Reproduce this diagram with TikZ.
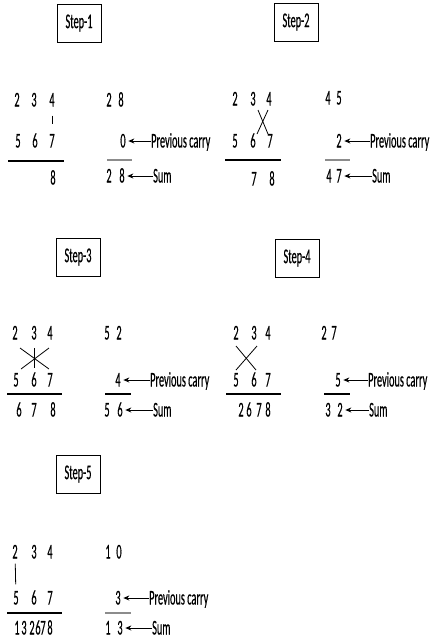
\documentclass[tikz,border=0pt]{standalone}
\usepackage{fontspec}
\setmainfont[FakeStretch=0.49,FakeBold=0.4]{Carlito}
\usetikzlibrary{arrows.meta}

\begin{document}
\begin{tikzpicture}[x=1pt,y=-1pt,font=\fontsize{21}{24}\selectfont,
  stepbox/.style={draw,line width=0.9pt,minimum width=44pt,minimum height=38pt,inner sep=0pt},
  dig/.style={inner sep=0pt,text height=13pt,text depth=0pt},
  lbl/.style={inner sep=0pt,text height=13pt,text depth=0pt,anchor=west},
  rule/.style={line width=1.3pt},
  crule/.style={line width=1.3pt,black!45},
  lnk/.style={line width=0.8pt},
  ptr/.style={line width=1pt,-{Stealth[length=6pt,width=5pt]},shorten >=2.5pt}]
\useasboundingbox (0,0) rectangle (430,641);
% --- Step-1 ---
\node[stepbox] (st1) at (79,23) {Step-1};
\node[dig] (s1a2) at (17,100) {2};
\node[dig] (s1a3) at (34,100) {3};
\node[dig] (s1a4) at (52,100) {4};
\node[dig] (s1b5) at (18,141) {5};
\node[dig] (s1b6) at (35,141) {6};
\node[dig] (s1b7) at (52,141) {7};
\draw[lnk,shorten <=9pt,shorten >=10pt] (s1a4) -- (s1b7);
\coordinate (s1u0) at (8,161); \coordinate (s1u1) at (64,161);
\draw[rule] (s1u0) -- (s1u1);
\node[dig] (s1r8) at (53,178) {8};
\node[dig] (s1p1) at (109,100) {2};
\node[dig] (s1p2) at (121,100) {8};
\node[dig] (s1c) at (123,141) {0};
\node[lbl] (s1cl) at (151,141) {Previous carry};
\draw[ptr] (s1cl) -- (s1c);
\coordinate (s1v0) at (107,160); \coordinate (s1v1) at (132,160);
\draw[crule] (s1v0) -- (s1v1);
\node[dig] (s1s1) at (109,176) {2};
\node[dig] (s1s2) at (122,176) {8};
\node[lbl] (s1sl) at (153,176) {Sum};
\draw[ptr] (s1sl) -- (s1s2);
% --- Step-2 ---
\node[stepbox] (st2) at (296,22) {Step-2};
\node[dig] (s2a2) at (235,99) {2};
\node[dig] (s2a3) at (253,99) {3};
\node[dig] (s2a4) at (269,99) {4};
\node[dig] (s2b5) at (235,141) {5};
\node[dig] (s2b6) at (253,141) {6};
\node[dig] (s2b7) at (270,141) {7};
\coordinate (s2x1) at (258,110); \coordinate (s2x2) at (268,134);
\coordinate (s2x3) at (268,110); \coordinate (s2x4) at (257,134);
\draw[lnk] (s2x1) -- (s2x2);
\draw[lnk] (s2x3) -- (s2x4);
\coordinate (s2u0) at (225,160); \coordinate (s2u1) at (281,160);
\draw[rule] (s2u0) -- (s2u1);
\node[dig] (s2r7) at (254,179) {7};
\node[dig] (s2r8) at (272,179) {8};
\node[dig] (s2p1) at (328,98) {4};
\node[dig] (s2p2) at (339,98) {5};
\node[dig] (s2c) at (339,141) {2};
\node[lbl] (s2cl) at (370,141) {Previous carry};
\draw[ptr] (s2cl) -- (s2c);
\coordinate (s2v0) at (325,160); \coordinate (s2v1) at (350,160);
\draw[crule] (s2v0) -- (s2v1);
\node[dig] (s2s1) at (329,176) {4};
\node[dig] (s2s2) at (339,176) {7};
\node[lbl] (s2sl) at (372,176) {Sum};
\draw[ptr] (s2sl) -- (s2s2);
% --- Step-3 ---
\node[stepbox] (st3) at (78,257) {Step-3};
\node[dig] (s3a2) at (15,333) {2};
\node[dig] (s3a3) at (34,333) {3};
\node[dig] (s3a4) at (50,333) {4};
\node[dig] (s3b5) at (16,380) {5};
\node[dig] (s3b6) at (34,380) {6};
\node[dig] (s3b7) at (50,380) {7};
\coordinate (s3x1) at (20,348); \coordinate (s3x2) at (49,369);
\coordinate (s3x3) at (49,348); \coordinate (s3x4) at (21,369);
\coordinate (s3x5) at (34,348); \coordinate (s3x6) at (34,368);
\draw[lnk] (s3x1) -- (s3x2);
\draw[lnk] (s3x3) -- (s3x4);
\draw[lnk] (s3x5) -- (s3x6);
\coordinate (s3u0) at (7,394); \coordinate (s3u1) at (62,394);
\draw[rule] (s3u0) -- (s3u1);
\node[dig] (s3r6) at (19,410) {6};
\node[dig] (s3r7) at (34,410) {7};
\node[dig] (s3r8) at (53,410) {8};
\node[dig] (s3p1) at (107,333) {5};
\node[dig] (s3p2) at (119,333) {2};
\node[dig] (s3c) at (118,380) {4};
\node[lbl] (s3cl) at (150,380) {Previous carry};
\draw[ptr] (s3cl) -- (s3c);
\coordinate (s3v0) at (105,394); \coordinate (s3v1) at (131,394);
\draw[rule] (s3v0) -- (s3v1);
\node[dig] (s3s1) at (107,410) {5};
\node[dig] (s3s2) at (120,410) {6};
\node[lbl] (s3sl) at (153,410) {Sum};
\draw[ptr] (s3sl) -- (s3s2);
% --- Step-4 ---
\node[stepbox] (st4) at (297,258) {Step-4};
\node[dig] (s4a2) at (236,333) {2};
\node[dig] (s4a3) at (254,333) {3};
\node[dig] (s4a4) at (268,333) {4};
\node[dig] (s4b5) at (236,380) {5};
\node[dig] (s4b6) at (254,380) {6};
\node[dig] (s4b7) at (268,380) {7};
\coordinate (s4x1) at (236,346); \coordinate (s4x2) at (256,370);
\coordinate (s4x3) at (257,346); \coordinate (s4x4) at (236,370);
\draw[lnk] (s4x1) -- (s4x2);
\draw[lnk] (s4x3) -- (s4x4);
\coordinate (s4u0) at (226,394); \coordinate (s4u1) at (281,394);
\draw[rule] (s4u0) -- (s4u1);
\node[dig] (s4r2) at (241,410) {2};
\node[dig] (s4r6) at (249,410) {6};
\node[dig] (s4r7) at (259,410) {7};
\node[dig] (s4r8) at (268,410) {8};
\node[dig] (s4p1) at (324,333) {2};
\node[dig] (s4p2) at (334,333) {7};
\node[dig] (s4c) at (338,380) {5};
\node[lbl] (s4cl) at (368,380) {Previous carry};
\draw[ptr] (s4cl) -- (s4c);
\coordinate (s4v0) at (324,394); \coordinate (s4v1) at (350,394);
\draw[rule] (s4v0) -- (s4v1);
\node[dig] (s4s1) at (328,410) {3};
\node[dig] (s4s2) at (340,410) {2};
\node[lbl] (s4sl) at (369,410) {Sum};
\draw[ptr] (s4sl) -- (s4s2);
% --- Step-5 ---
\node[stepbox] (st5) at (78,474) {Step-5};
\node[dig] (s5a2) at (15,552) {2};
\node[dig] (s5a3) at (34,552) {3};
\node[dig] (s5a4) at (50,552) {4};
\node[dig] (s5b5) at (16,598) {5};
\node[dig] (s5b6) at (34,598) {6};
\node[dig] (s5b7) at (50,598) {7};
\draw[lnk,shorten <=5pt,shorten >=7pt] (s5a2) -- (s5b5);
\coordinate (s5u0) at (7,613); \coordinate (s5u1) at (62,613);
\draw[rule] (s5u0) -- (s5u1);
\node[dig] (s5r1) at (17,628) {1};
\node[dig] (s5r3) at (24,628) {3};
\node[dig] (s5r2) at (32,628) {2};
\node[dig] (s5r6) at (38,628) {6};
\node[dig] (s5r7) at (43,628) {7};
\node[dig] (s5r8) at (50,628) {8};
\node[dig] (s5p1) at (108,552) {1};
\node[dig] (s5p2) at (119,552) {0};
\node[dig] (s5c) at (118,598) {3};
\node[lbl] (s5cl) at (149,598) {Previous carry};
\draw[ptr] (s5cl) -- (s5c);
\coordinate (s5v0) at (105,613); \coordinate (s5v1) at (131,613);
\draw[crule] (s5v0) -- (s5v1);
\node[dig] (s5s1) at (108,628) {1};
\node[dig] (s5s2) at (120,628) {3};
\node[lbl] (s5sl) at (152,628) {Sum};
\draw[ptr] (s5sl) -- (s5s2);
\end{tikzpicture}
\end{document}
